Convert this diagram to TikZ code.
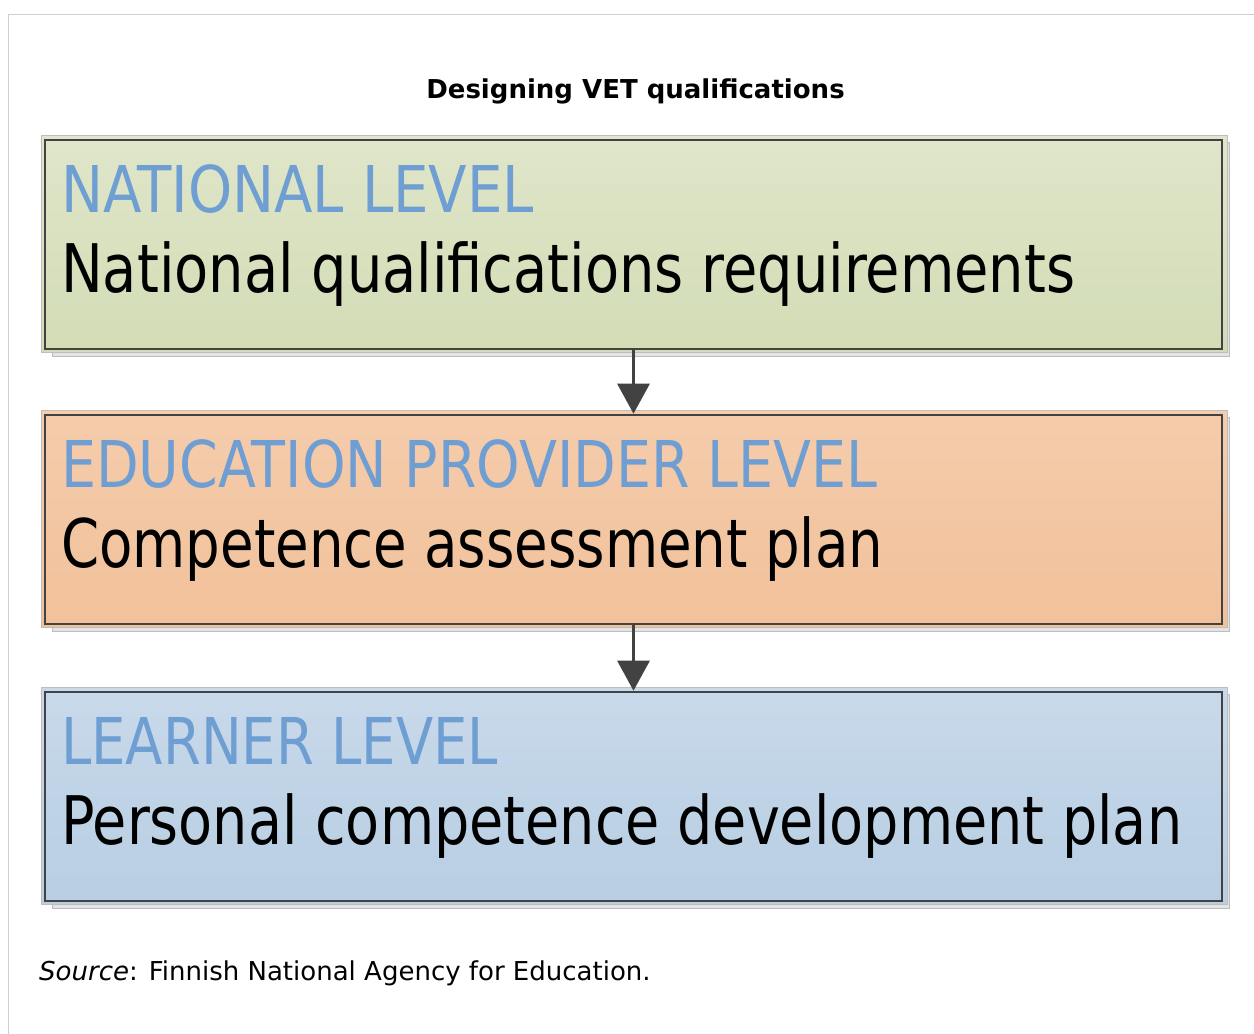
\documentclass[tikz,border=0pt]{standalone}
\usepackage{fontspec}
\setmainfont{DejaVu Sans}
\usepackage{graphicx}
\usetikzlibrary{arrows.meta}
\definecolor{framegray}{HTML}{CFCFCF}
\definecolor{outergray}{HTML}{BDBDBD}
\definecolor{shadowfill}{HTML}{E4E4E4}
\definecolor{darkedge}{HTML}{424242}
\definecolor{lvlblue}{HTML}{6E9ED2}
\definecolor{gtop}{HTML}{E0E6CA}
\definecolor{gbot}{HTML}{D2DCB5}
\definecolor{otop}{HTML}{F5CCAC}
\definecolor{obot}{HTML}{F1C19A}
\definecolor{btop}{HTML}{C8D9EA}
\definecolor{bbot}{HTML}{B8CEE3}
\newcommand{\fitw}[2]{\resizebox{#1}{\height}{#2}}
\tikzset{
  innerbox/.style={draw=darkedge, line width=2.6pt, minimum width=1177pt, minimum height=209pt, inner sep=0pt},
  shadowbox/.style={fill=shadowfill, draw=outergray, line width=1pt},
  outerbox/.style={draw=outergray, line width=1pt},
  lvl/.style={anchor=base west, inner sep=0pt, text=lvlblue, font=\fontsize{64.5}{70}\selectfont},
  body/.style={anchor=base west, inner sep=0pt, text=black, font=\fontsize{67}{72}\selectfont},
  arr/.style={draw=darkedge, line width=3pt, -{Triangle[width=32pt,length=30pt]}}
}
\begin{document}
\begin{tikzpicture}[x=1pt,y=-1pt]
\useasboundingbox (0,0) rectangle (1254,1034);
\fill[white] (0,0) rectangle (1254,1034);
\draw[framegray, line width=1.5pt] (8.5,1034) -- (8.5,14.5) -- (1254,14.5);

\node[anchor=base, inner sep=0pt, font=\bfseries\fontsize{26}{30}\selectfont] (title) at (635.5,98) {Designing VET qualifications};

% box 1
\filldraw[shadowbox] (52,142) rectangle (1229,356);
\shade[outerbox, top color=gtop, bottom color=gbot] (41,135) rectangle (1227,352);
\node[innerbox] (b1) at (633.5,244.5) {};
\node[lvl] (l1) at (61,212) {\fitw{473pt}{NATIONAL LEVEL}};
\node[body] (d1) at (61,292) {\fitw{1014pt}{National qualifications requirements}};

% box 2
\filldraw[shadowbox] (52,417) rectangle (1229,631);
\shade[outerbox, top color=otop, bottom color=obot] (41,410) rectangle (1227,627);
\node[innerbox] (b2) at (633.5,519.5) {};
\node[lvl] (l2) at (61,487) {\fitw{816pt}{EDUCATION PROVIDER LEVEL}};
\node[body] (d2) at (61,567) {\fitw{822pt}{Competence assessment plan}};

% box 3
\filldraw[shadowbox] (52,694) rectangle (1229,908);
\shade[outerbox, top color=btop, bottom color=bbot] (41,687) rectangle (1227,904);
\node[innerbox] (b3) at (633.5,796.5) {};
\node[lvl] (l3) at (61,764) {\fitw{437pt}{LEARNER LEVEL}};
\node[body] (d3) at (61,844) {\fitw{1121pt}{Personal competence development plan}};

\draw[arr] (b1.south) -- (b2.north);
\draw[arr] (b2.south) -- (b3.north);

\node[anchor=base west, inner sep=0pt, font=\fontsize{26}{30}\selectfont] (src) at (39,980) {\textit{Source}: Finnish National Agency for Education.};
\end{tikzpicture}
\end{document}
